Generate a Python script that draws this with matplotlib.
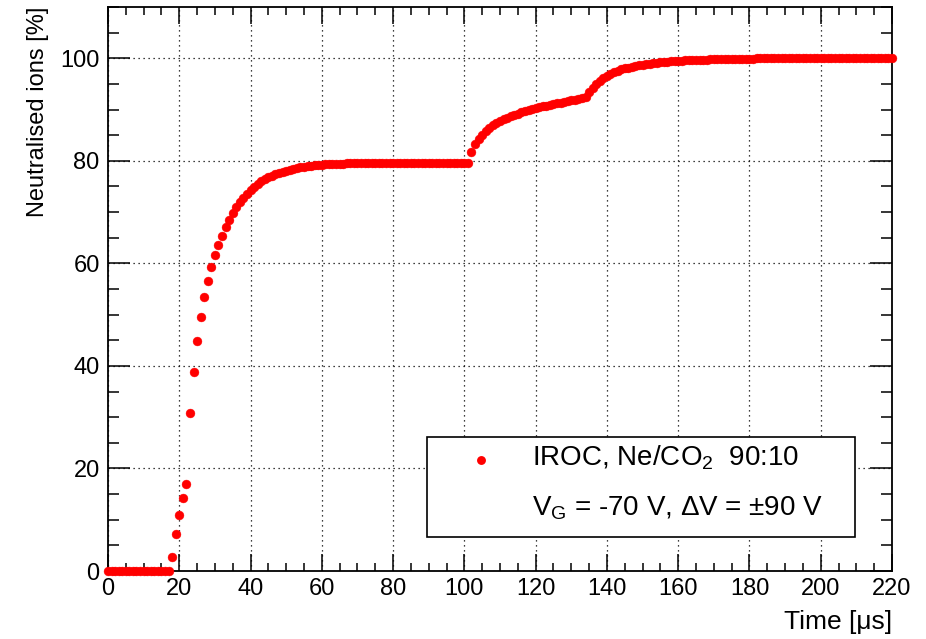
import matplotlib
matplotlib.use("Agg")
import matplotlib.pyplot as plt
from matplotlib.patches import Rectangle
from matplotlib.ticker import MultipleLocator

plt.rcParams["font.family"] = ["Liberation Sans", "DejaVu Sans"]
plt.rcParams["mathtext.fontset"] = "custom"
plt.rcParams["mathtext.rm"] = "Liberation Sans"
plt.rcParams["mathtext.it"] = "Liberation Sans:italic"

# Sample times [us], one sample per microsecond
time_us = list(range(0, 221))

# Fraction of neutralised ions [%] at each sample time
neutralised = (
    [0.0] * 18
    + [2.8, 7.2, 11.0, 14.2, 17.0, 30.8, 38.9, 44.9, 49.5, 53.4,
       56.6, 59.3, 61.6, 63.6, 65.4, 67.0, 68.5, 69.8, 70.9, 71.9,
       72.8, 73.6, 74.3, 74.9, 75.5, 76.0, 76.4, 76.8, 77.1, 77.4,
       77.7, 77.9, 78.1, 78.3, 78.5, 78.6, 78.75, 78.85, 78.95, 79.05,
       79.1, 79.2, 79.25, 79.3, 79.35, 79.4, 79.4, 79.45, 79.45, 79.5,
       79.5, 79.5, 79.55, 79.55, 79.55, 79.55, 79.55, 79.55, 79.55, 79.55,
       79.55, 79.55, 79.6, 79.6, 79.6, 79.6, 79.6, 79.6, 79.6, 79.6,
       79.6, 79.6, 79.6, 79.6, 79.6, 79.6, 79.6, 79.6, 79.6, 79.6,
       79.6, 79.6, 79.6, 79.6]
    + [81.8, 83.2, 84.3, 85.1, 85.8, 86.4, 86.9, 87.35, 87.75, 88.1,
       88.4, 88.7, 88.95, 89.2, 89.45, 89.7, 89.9, 90.1, 90.3, 90.45,
       90.6, 90.75, 90.9, 91.05, 91.2, 91.35, 91.5, 91.65, 91.8, 91.95,
       92.1, 92.25, 92.4]
    + [93.4, 94.2, 94.9, 95.5, 96.1, 96.6, 97.0, 97.3, 97.6, 97.85,
       98.05, 98.2, 98.35, 98.5, 98.6, 98.7, 98.85, 98.95, 99.05, 99.15,
       99.2, 99.3, 99.35, 99.4, 99.45, 99.5, 99.55, 99.6, 99.62, 99.65,
       99.68, 99.7, 99.73, 99.75, 99.78, 99.8, 99.82, 99.84, 99.86, 99.88,
       99.9, 99.91, 99.92, 99.93, 99.94, 99.95, 99.96, 99.97, 99.97, 99.98,
       99.98, 99.98, 99.99, 99.99, 99.99, 99.99, 100.0, 100.0, 100.0, 100.0,
       100.0, 100.0, 100.0, 100.0, 100.0, 100.0, 100.0, 100.0, 100.0, 100.0,
       100.0, 100.0, 100.0, 100.0, 100.0, 100.0, 100.0, 100.0, 100.0, 100.0,
       100.0, 100.0, 100.0, 100.0, 100.0, 100.0]
)

legend_line1 = r"IROC, Ne/CO$_{2}$  90:10"
legend_line2 = r"V$_{\mathrm{G}}$ = -70 V, ΔV = ±90 V"

fig = plt.figure(figsize=(9.26, 6.39), dpi=100)
ax = fig.add_axes([0.1166, 0.1064, 0.8467, 0.8826])

ax.plot(time_us, neutralised, linestyle="none", marker="o", markersize=6.4,
        color="#ff0000", markeredgewidth=0.3, markeredgecolor="#ff0000",
        clip_on=False, zorder=3)

ax.set_xlim(0, 220)
ax.set_ylim(0, 110)
ax.xaxis.set_major_locator(MultipleLocator(20))
ax.xaxis.set_minor_locator(MultipleLocator(5))
ax.yaxis.set_major_locator(MultipleLocator(20))
ax.yaxis.set_minor_locator(MultipleLocator(5))

ax.grid(True, which="major", color="black", linestyle=(0, (1, 3)), linewidth=0.9)
ax.set_axisbelow(True)

ax.tick_params(axis="both", which="both", direction="in", top=True, right=True,
               labelsize=17, width=1.1, colors="black")
ax.tick_params(axis="x", which="major", length=12, pad=5)
ax.tick_params(axis="x", which="minor", length=6)
ax.tick_params(axis="y", which="major", length=16, pad=6)
ax.tick_params(axis="y", which="minor", length=8)
for sp in ax.spines.values():
    sp.set_linewidth(1.3)

ax.set_xlabel("Time [μs]", fontsize=19, loc="right", labelpad=7)
ax.set_ylabel("Neutralised ions [%]", fontsize=17, loc="top", labelpad=8)

# Legend box
ax.add_patch(Rectangle((0.407, 0.0603), 0.546, 0.1773, transform=ax.transAxes,
                       facecolor="white", edgecolor="black", linewidth=1.2,
                       zorder=4, clip_on=False))
ax.plot([0.476], [0.197], transform=ax.transAxes, linestyle="none", marker="o",
        markersize=6.4, color="#ff0000", markeredgewidth=0, zorder=5, clip_on=False)
ax.text(0.541, 0.200, legend_line1, transform=ax.transAxes, fontsize=20,
        ha="left", va="center", zorder=5)
ax.text(0.541, 0.112, legend_line2, transform=ax.transAxes, fontsize=20,
        ha="left", va="center", zorder=5)

fig.savefig("out.png", dpi=100, facecolor="white")
